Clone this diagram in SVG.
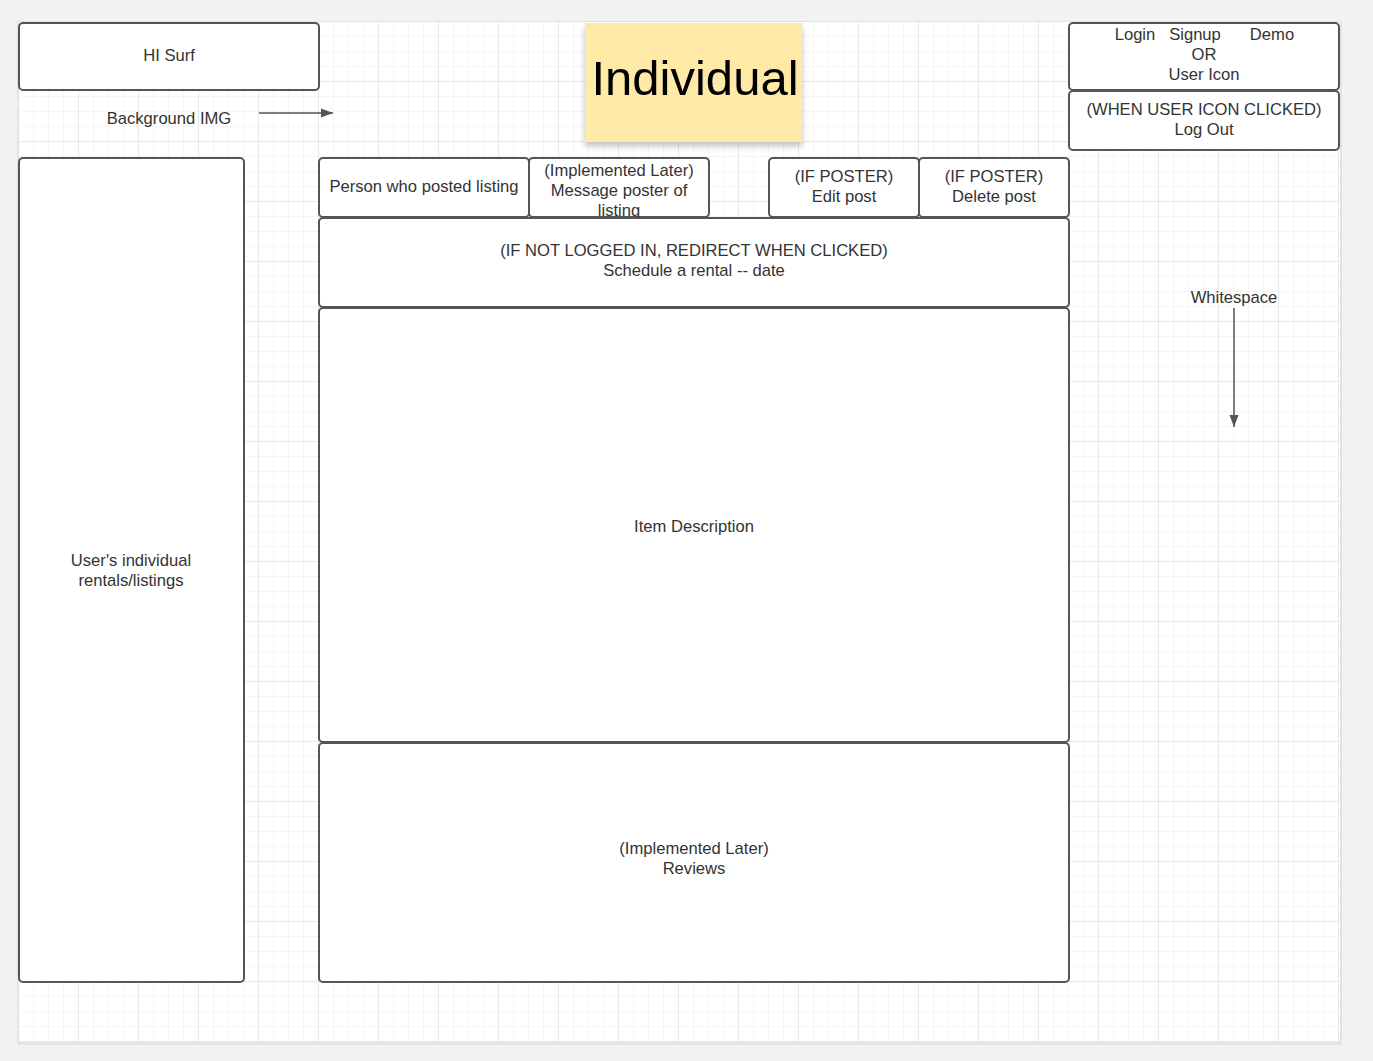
<svg xmlns="http://www.w3.org/2000/svg" width="1373" height="1061" viewBox="0 0 1373 1061">
<defs>
<pattern id="minor" x="19" y="22" width="15" height="15" patternUnits="userSpaceOnUse">
<path d="M15 0V15M0 15H15" fill="none" stroke="#ebebeb" stroke-width="1"/>
</pattern>
<pattern id="major" x="19" y="22" width="60" height="60" patternUnits="userSpaceOnUse">
<path d="M60 0V60M0 60H60" fill="none" stroke="#dcdcdc" stroke-width="1"/>
</pattern>
<marker id="arr" viewBox="0 0 12 10" refX="12" refY="5" markerWidth="12" markerHeight="10" markerUnits="userSpaceOnUse" orient="auto">
<path d="M0 0.5L12 5L0 9.5Z" fill="#555"/>
</marker>
<filter id="sh" x="-10%" y="-10%" width="120%" height="130%">
<feDropShadow dx="0" dy="4" stdDeviation="3" flood-color="#000" flood-opacity="0.25"/>
</filter>
</defs>
<style>
.box{fill:#fff;stroke:#555;stroke-width:2}
.t{font-family:"Liberation Sans",Arial,sans-serif;font-size:16.6px;fill:#333;text-anchor:middle}
.conn{stroke:#555;stroke-width:1.5;fill:none}
</style>
<rect width="1373" height="1061" fill="#f1f2f4"/>
<rect x="17" y="21" width="1325" height="1024" fill="#e2e3e5"/>
<rect x="19" y="22" width="1321" height="1020" fill="#fff"/>
<rect x="19" y="22" width="1321" height="1020" fill="url(#minor)"/>
<rect x="19" y="22" width="1321" height="1020" fill="url(#major)"/>

<g id="connectors">
<path class="conn" d="M259 113H333" marker-end="url(#arr)"/>
<path class="conn" d="M1234 308V427" marker-end="url(#arr)"/>
</g>

<g id="hisurf"><rect class="box" x="19" y="23" width="300" height="67" rx="4"/><text class="t" x="169" y="61">HI Surf</text></g>
<g id="bgimg"><text class="t" x="169" y="124">Background IMG</text></g>
<g id="sticky"><rect x="585" y="23" width="217" height="119" fill="#ffe9a6" filter="url(#sh)"/><text x="695" y="95" font-family="Liberation Sans,Arial,sans-serif" font-size="49" fill="#000" text-anchor="middle">Individual</text></g>
<g id="login"><rect class="box" x="1069" y="23" width="270" height="67" rx="4"/>
<text class="t" y="40"><tspan x="1135">Login</tspan><tspan x="1195">Signup</tspan><tspan x="1272">Demo</tspan></text>
<text class="t" x="1204" y="60">OR</text><text class="t" x="1204" y="80">User Icon</text></g>
<g id="logout"><rect class="box" x="1069" y="91" width="270" height="59" rx="4"/><text class="t" x="1204" y="115">(WHEN USER ICON CLICKED)</text><text class="t" x="1204" y="135">Log Out</text></g>
<g id="userlistings"><rect class="box" x="19" y="158" width="225" height="824" rx="4"/><text class="t" x="131" y="566">User's individual</text><text class="t" x="131" y="586">rentals/listings</text></g>
<g id="person"><rect class="box" x="319" y="158" width="210" height="59" rx="4"/><text class="t" x="424" y="192">Person who posted listing</text></g>
<g id="message"><rect class="box" x="529" y="158" width="180" height="59" rx="4"/><text class="t" x="619" y="176">(Implemented Later)</text><text class="t" x="619" y="196">Message poster of</text><text class="t" x="619" y="216">listing</text></g>
<g id="edit"><rect class="box" x="769" y="158" width="150" height="59" rx="4"/><text class="t" x="844" y="182">(IF POSTER)</text><text class="t" x="844" y="202">Edit post</text></g>
<g id="delete"><rect class="box" x="919" y="158" width="150" height="59" rx="4"/><text class="t" x="994" y="182">(IF POSTER)</text><text class="t" x="994" y="202">Delete post</text></g>
<g id="schedule"><rect class="box" x="319" y="218" width="750" height="89" rx="4"/><text class="t" x="694" y="256">(IF NOT LOGGED IN, REDIRECT WHEN CLICKED)</text><text class="t" x="694" y="276">Schedule a rental -- date</text></g>
<g id="item"><rect class="box" x="319" y="308" width="750" height="434" rx="4"/><text class="t" x="694" y="532">Item Description</text></g>
<g id="reviews"><rect class="box" x="319" y="743" width="750" height="239" rx="4"/><text class="t" x="694" y="854">(Implemented Later)</text><text class="t" x="694" y="874">Reviews</text></g>
<g id="whitespace"><text class="t" x="1234" y="303">Whitespace</text></g>
</svg>
